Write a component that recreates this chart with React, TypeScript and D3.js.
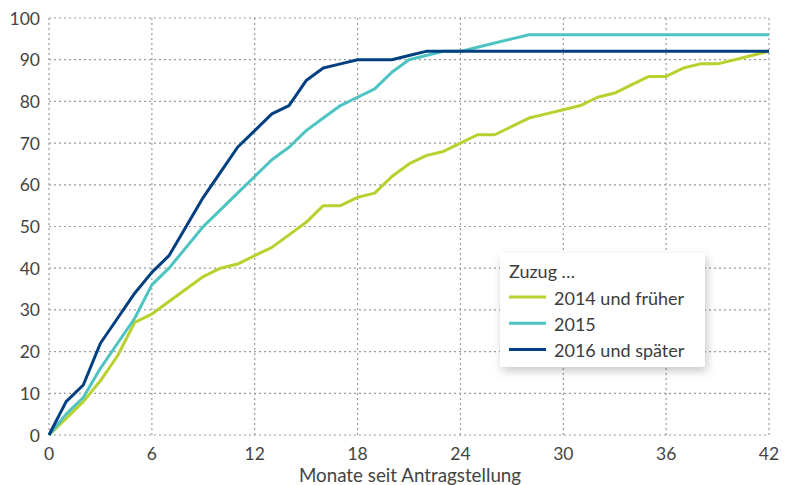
import React from "react";
import * as d3 from "d3";

const months = d3.range(0, 43);
const series2014 = [0,4,8,13,19,27,29,32,35,38,40,41,43,45,48,51,55,55,57,58,62,65,67,68,70,72,72,74,76,77,78,79,81,82,84,86,86,88,89,89,90,91,92];
const series2015 = [0,5,9,16,22,28,36,40,45,50,54,58,62,66,69,73,76,79,81,83,87,90,91,92,92,93,94,95,96,96,96,96,96,96,96,96,96,96,96,96,96,96,96];
const series2016 = [0,8,12,22,28,34,39,43,50,57,63,69,73,77,79,85,88,89,90,90,90,91,92,92,92,92,92,92,92,92,92,92,92,92,92,92,92,92,92,92,92,92,92];
const seriesNames = ["2014 und früher", "2015", "2016 und später"];
const seriesColors = ["#b8d12e", "#4dc3c2", "#003f80"];
const xTicks = [0, 6, 12, 18, 24, 30, 36, 42];
const yTicks = [0, 10, 20, 30, 40, 50, 60, 70, 80, 90, 100];
const xTitle = "Monate seit Antragstellung";
const legendTitle = "Zuzug …";

const W = 794, H = 485;
const FONT = "'Source Sans Pro', Lato, 'Open Sans', sans-serif";

export default function App() {
  const x = d3.scaleLinear().domain([0, 42]).range([49, 769]);
  const y = d3.scaleLinear().domain([0, 100]).range([435, 18]);
  const line = d3.line<number>().x((_, i) => x(months[i])).y((d) => y(d));
  const allSeries = [series2014, series2015, series2016];
  return (
    <svg width={W} height={H} style={{ position: "absolute", left: 0, top: 0 }} fontFamily={FONT}>
      <defs>
        <filter id="sh" x="-20%" y="-20%" width="150%" height="160%">
          <feDropShadow dx="2" dy="4" stdDeviation="5" floodColor="#000" floodOpacity="0.22" />
        </filter>
      </defs>
      <rect x={0} y={0} width={W} height={H} fill="#fff" />
      {yTicks.map((t) => (
        <line key={"gy" + t} x1={x(0)} x2={x(42)} y1={y(t)} y2={y(t)} stroke="#9a9a9a" strokeWidth={1.2} strokeDasharray="2,3" />
      ))}
      {xTicks.map((t) => (
        <line key={"gx" + t} x1={x(t)} x2={x(t)} y1={y(0)} y2={y(100)} stroke="#9a9a9a" strokeWidth={1.2} strokeDasharray="2,3" />
      ))}
      {yTicks.map((t) => (
        <text key={"ty" + t} x={40} y={y(t) + 6.5} textAnchor="end" fontSize={17.5} fill="#444">{t}</text>
      ))}
      {xTicks.map((t) => (
        <text key={"tx" + t} x={x(t)} y={460} textAnchor="middle" fontSize={17.5} fill="#444">{t}</text>
      ))}
      <text x={410} y={482} textAnchor="middle" fontSize={18.8} fill="#444">{xTitle}</text>
      {allSeries.map((s, i) => (
        <path key={"s" + i} d={line(s) || ""} fill="none" stroke={seriesColors[i]} strokeWidth={3} strokeLinejoin="round" />
      ))}
      <g>
        <rect x={500} y={253} width={205} height={114} fill="#fff" filter="url(#sh)" />
        <text x={509} y={278} fontSize={18} fill="#3c3c3c">{legendTitle}</text>
        {seriesNames.map((n, i) => (
          <g key={"l" + i}>
            <line x1={509} x2={546} y1={297 + i * 26.3} y2={297 + i * 26.3} stroke={seriesColors[i]} strokeWidth={3} />
            <text x={554} y={304.5 + i * 26.3} fontSize={18} fill="#3c3c3c">{n}</text>
          </g>
        ))}
      </g>
    </svg>
  );
}
